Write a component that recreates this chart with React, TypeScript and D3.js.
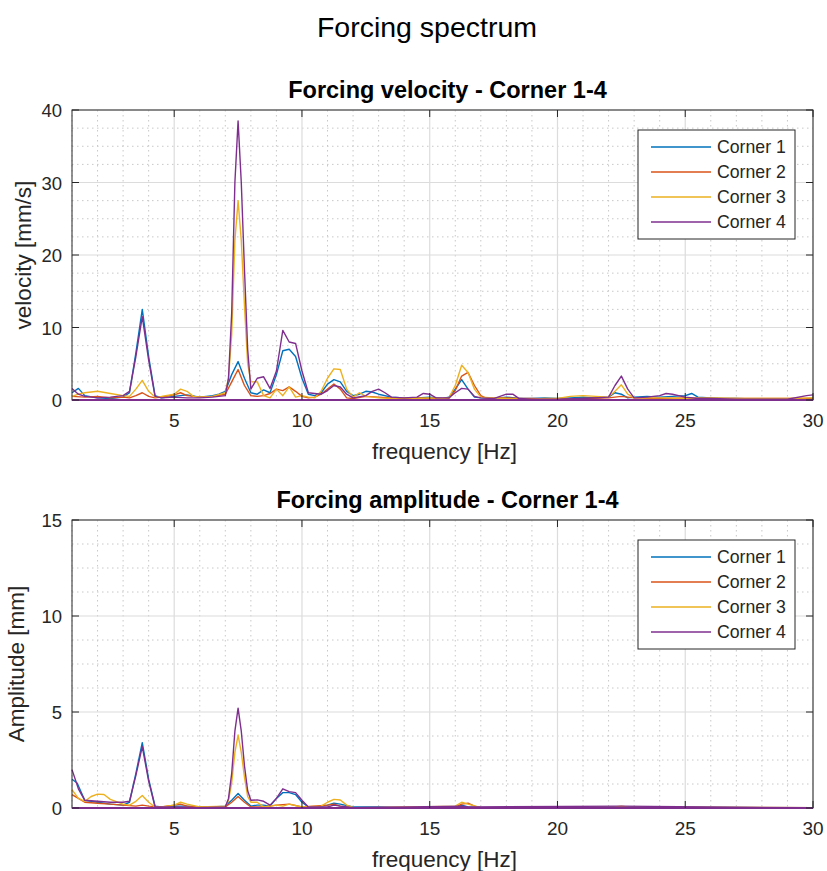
import React from "react";
import * as d3 from "d3";

type Pt = [number, number];

// ---------- Data (frequency Hz, value) ----------
const velCorner1: Pt[] = [
  [1.0, 1.0], [1.25, 1.6], [1.5, 0.6], [2.0, 0.3], [2.5, 0.2], [3.0, 0.4], [3.25, 1.0], [3.5, 6.5], [3.75, 12.5], [4.0, 6.0],
  [4.25, 0.6], [4.5, 0.3], [5.0, 0.5], [5.5, 0.7], [6.0, 0.4], [6.5, 0.6], [6.75, 0.8], [7.0, 1.2], [7.25, 3.5], [7.5, 5.3],
  [7.75, 3.0], [8.0, 1.0], [8.25, 0.8], [8.5, 1.4], [8.75, 1.0], [9.0, 3.5], [9.25, 6.8], [9.5, 7.0], [9.75, 6.0], [10.0, 3.0],
  [10.25, 0.8], [10.5, 0.6], [10.75, 1.0], [11.0, 2.2], [11.25, 2.8], [11.5, 2.5], [11.75, 1.2], [12.0, 0.6], [12.25, 0.8],
  [12.5, 1.2], [12.75, 1.1], [13.0, 0.8], [13.5, 0.4], [14.0, 0.3], [14.5, 0.3], [15.0, 0.4], [15.5, 0.2], [15.75, 0.4],
  [16.0, 1.5], [16.25, 2.8], [16.5, 1.5], [16.75, 0.4], [17.0, 0.3], [17.5, 0.2], [18.0, 0.4], [18.5, 0.2], [19.0, 0.2],
  [19.5, 0.3], [20.0, 0.2], [20.5, 0.3], [21.0, 0.4], [21.5, 0.3], [22.0, 0.4], [22.25, 1.0], [22.5, 0.8], [22.75, 0.3],
  [23.0, 0.4], [23.5, 0.5], [24.0, 0.4], [24.5, 0.5], [25.0, 0.6], [25.25, 0.9], [25.5, 0.4], [26.0, 0.3], [26.5, 0.2],
  [27.0, 0.2], [28.0, 0.1], [29.0, 0.1], [30.0, 0.2],
];
const velCorner2: Pt[] = [
  [1.0, 0.5], [1.5, 0.4], [2.0, 0.5], [2.5, 0.3], [3.0, 0.4], [3.25, 0.3], [3.5, 0.6], [3.75, 1.0], [4.0, 0.5], [4.25, 0.3],
  [4.5, 0.4], [5.0, 0.7], [5.25, 1.0], [5.5, 0.6], [6.0, 0.4], [6.5, 0.5], [7.0, 0.8], [7.25, 2.5], [7.5, 4.2], [7.75, 2.0],
  [8.0, 0.6], [8.25, 0.5], [8.5, 0.6], [8.75, 0.9], [9.0, 1.5], [9.25, 1.3], [9.5, 1.8], [9.75, 1.2], [10.0, 0.5], [10.25, 0.3],
  [10.5, 0.4], [10.75, 0.8], [11.0, 1.5], [11.25, 2.2], [11.5, 1.5], [11.75, 0.3], [12.0, 0.2], [12.5, 0.5], [13.0, 0.4],
  [13.5, 0.3], [14.0, 0.2], [14.5, 0.3], [15.0, 0.2], [15.5, 0.2], [15.75, 0.2], [16.0, 1.3], [16.25, 3.3], [16.5, 3.8],
  [16.75, 2.0], [17.0, 0.6], [17.25, 0.2], [17.5, 0.3], [18.0, 0.3], [18.5, 0.2], [19.0, 0.2], [20.0, 0.1], [21.0, 0.2],
  [22.0, 0.3], [22.5, 0.5], [23.0, 0.3], [24.0, 0.2], [25.0, 0.3], [26.0, 0.2], [27.0, 0.2], [28.0, 0.2], [29.0, 0.2], [30.0, 0.2],
];
const velCorner3: Pt[] = [
  [1.0, 0.5], [1.25, 0.8], [1.5, 1.0], [2.0, 1.2], [2.5, 0.9], [3.0, 0.6], [3.25, 0.5], [3.5, 1.5], [3.75, 2.7], [4.0, 1.2],
  [4.25, 0.4], [4.5, 0.5], [5.0, 0.8], [5.25, 1.5], [5.5, 1.2], [5.75, 0.5], [6.0, 0.4], [6.5, 0.5], [7.0, 1.0], [7.125, 3.0],
  [7.25, 9.0], [7.375, 22.0], [7.5, 27.5], [7.625, 22.0], [7.75, 13.0], [7.875, 5.0], [8.0, 2.5], [8.25, 2.5], [8.5, 0.6],
  [8.75, 0.3], [9.0, 1.5], [9.25, 0.6], [9.5, 1.8], [9.75, 0.4], [10.0, 0.6], [10.25, 0.4], [10.5, 0.3], [10.75, 1.2],
  [11.0, 3.0], [11.25, 4.3], [11.5, 4.2], [11.75, 1.5], [12.0, 0.4], [12.25, 1.0], [12.5, 0.5], [13.0, 0.3], [13.5, 0.2],
  [14.0, 0.3], [14.5, 0.2], [15.0, 0.3], [15.5, 0.2], [15.75, 0.3], [16.0, 2.0], [16.25, 4.8], [16.5, 3.8], [16.75, 1.5],
  [17.0, 0.4], [17.5, 0.3], [18.0, 0.2], [19.0, 0.1], [19.5, 0.2], [20.0, 0.2], [20.5, 0.5], [21.0, 0.6], [21.5, 0.5],
  [22.0, 0.4], [22.25, 1.2], [22.5, 2.1], [22.75, 0.8], [23.0, 0.3], [24.0, 0.3], [25.0, 0.2], [26.0, 0.3], [27.0, 0.2],
  [28.0, 0.2], [29.0, 0.2], [30.0, 0.3],
];
const velCorner4: Pt[] = [
  [1.0, 1.6], [1.25, 0.8], [1.5, 0.5], [2.0, 0.3], [2.5, 0.4], [3.0, 0.6], [3.25, 1.2], [3.5, 6.0], [3.75, 11.5], [4.0, 5.5],
  [4.25, 0.5], [4.5, 0.3], [5.0, 0.4], [5.5, 0.3], [6.0, 0.3], [6.5, 0.4], [7.0, 0.6], [7.125, 3.0], [7.25, 12.0],
  [7.375, 30.0], [7.5, 38.5], [7.625, 30.0], [7.75, 18.0], [7.875, 7.0], [8.0, 1.5], [8.25, 3.0], [8.5, 3.2], [8.75, 1.6],
  [9.0, 4.0], [9.25, 9.6], [9.5, 8.0], [9.75, 7.8], [10.0, 4.0], [10.25, 1.0], [10.5, 0.9], [10.75, 0.8], [11.0, 1.3],
  [11.25, 2.0], [11.5, 1.8], [11.75, 0.8], [12.0, 0.3], [12.5, 0.6], [12.75, 1.2], [13.0, 1.5], [13.25, 1.0], [13.5, 0.4],
  [14.0, 0.3], [14.5, 0.4], [14.75, 0.9], [15.0, 0.8], [15.25, 0.3], [15.75, 0.3], [16.0, 1.0], [16.25, 1.6], [16.5, 1.5],
  [16.75, 0.5], [17.0, 0.3], [17.5, 0.2], [18.0, 0.8], [18.25, 0.8], [18.5, 0.2], [19.0, 0.1], [20.0, 0.1], [21.0, 0.2],
  [22.0, 0.4], [22.25, 2.0], [22.5, 3.3], [22.75, 1.5], [23.0, 0.3], [23.5, 0.4], [24.0, 0.6], [24.25, 0.9], [24.5, 0.8],
  [25.0, 0.4], [25.5, 0.2], [26.0, 0.2], [27.0, 0.1], [28.0, 0.1], [29.0, 0.1], [29.75, 0.6], [30.0, 0.7],
];

const ampCorner1: Pt[] = [
  [1.0, 1.5], [1.2, 1.3], [1.5, 0.4], [2.0, 0.3], [2.5, 0.2], [3.0, 0.15], [3.25, 0.3], [3.5, 1.8], [3.75, 3.4], [4.0, 1.5],
  [4.25, 0.1], [4.5, 0.05], [5.0, 0.1], [5.5, 0.1], [6.0, 0.05], [6.5, 0.05], [7.0, 0.1], [7.25, 0.4], [7.5, 0.75],
  [7.75, 0.4], [8.0, 0.1], [8.25, 0.15], [8.5, 0.15], [8.75, 0.1], [9.0, 0.5], [9.25, 0.8], [9.5, 0.8], [9.75, 0.7],
  [10.0, 0.3], [10.25, 0.05], [10.5, 0.05], [11.0, 0.15], [11.25, 0.25], [11.5, 0.2], [12.0, 0.05], [13.0, 0.05],
  [14.0, 0.02], [16.0, 0.03], [16.25, 0.15], [16.5, 0.05], [17.0, 0.02], [22.5, 0.05], [30.0, 0.01],
];
const ampCorner2: Pt[] = [
  [1.0, 0.7], [1.25, 0.5], [1.5, 0.3], [2.0, 0.25], [2.5, 0.2], [3.0, 0.15], [3.5, 0.1], [3.75, 0.15], [4.0, 0.1],
  [4.5, 0.05], [5.0, 0.15], [5.25, 0.2], [5.5, 0.1], [6.0, 0.05], [7.0, 0.05], [7.25, 0.3], [7.5, 0.6], [7.75, 0.3],
  [8.0, 0.05], [8.5, 0.05], [9.0, 0.15], [9.5, 0.2], [10.0, 0.05], [11.0, 0.15], [11.25, 0.2], [11.5, 0.1], [12.0, 0.02],
  [16.0, 0.05], [16.25, 0.2], [16.5, 0.25], [16.75, 0.1], [17.0, 0.02], [30.0, 0.01],
];
const ampCorner3: Pt[] = [
  [1.0, 0.95], [1.25, 0.5], [1.5, 0.35], [1.75, 0.6], [2.0, 0.72], [2.25, 0.7], [2.5, 0.45], [3.0, 0.2], [3.25, 0.15],
  [3.5, 0.35], [3.75, 0.65], [4.0, 0.3], [4.25, 0.05], [4.5, 0.05], [5.0, 0.15], [5.25, 0.3], [5.5, 0.2], [6.0, 0.05],
  [7.0, 0.1], [7.125, 0.4], [7.25, 1.3], [7.375, 2.9], [7.5, 3.8], [7.625, 2.9], [7.75, 1.6], [7.875, 0.6], [8.0, 0.3],
  [8.25, 0.3], [8.5, 0.05], [9.0, 0.15], [9.25, 0.1], [9.5, 0.2], [10.0, 0.05], [10.75, 0.1], [11.0, 0.3], [11.25, 0.45],
  [11.5, 0.42], [11.75, 0.15], [12.0, 0.03], [13.0, 0.02], [16.0, 0.1], [16.25, 0.3], [16.5, 0.2], [17.0, 0.02],
  [22.25, 0.05], [22.5, 0.1], [22.75, 0.05], [30.0, 0.02],
];
const ampCorner4: Pt[] = [
  [1.0, 2.0], [1.25, 1.0], [1.5, 0.4], [2.0, 0.35], [2.5, 0.3], [3.0, 0.3], [3.25, 0.35], [3.5, 1.7], [3.75, 3.2], [4.0, 1.4],
  [4.25, 0.05], [4.5, 0.05], [5.0, 0.05], [6.0, 0.02], [7.0, 0.05], [7.125, 0.5], [7.25, 1.8], [7.375, 4.0], [7.5, 5.2],
  [7.625, 4.0], [7.75, 2.2], [7.875, 0.9], [8.0, 0.4], [8.25, 0.42], [8.5, 0.35], [8.75, 0.15], [9.0, 0.5], [9.25, 1.0],
  [9.5, 0.85], [9.75, 0.8], [10.0, 0.4], [10.25, 0.05], [11.0, 0.05], [11.25, 0.15], [11.5, 0.1], [12.0, 0.02],
  [16.25, 0.1], [16.5, 0.05], [22.5, 0.1], [30.0, 0.01],
];

const seriesNames = ["Corner 1", "Corner 2", "Corner 3", "Corner 4"];
const seriesColors = ["#0072BD", "#D95319", "#EDB120", "#7E2F8E"];
const xTicks = [5, 10, 15, 20, 25, 30];
const velTicks = [0, 10, 20, 30, 40];
const ampTicks = [0, 5, 10, 15];

const FONT = "'Liberation Sans', Arial, Helvetica, sans-serif";
const TEXT = "#262626";

interface PanelProps {
  top: number;
  bottom: number;
  data: Pt[][];
  yMax: number;
  yTicks: number[];
  yMinorStep: number;
  title: string;
  ylabel: string;
  ylabelX: number;
}

const LEFT = 72;
const RIGHT = 813;

function Panel({ top, bottom, data, yMax, yTicks, yMinorStep, title, ylabel, ylabelX }: PanelProps) {
  const x = d3.scaleLinear().domain([1, 30]).range([LEFT, RIGHT]);
  const y = d3.scaleLinear().domain([0, yMax]).range([bottom, top]);
  const line = d3.line<Pt>().x((d) => x(d[0])).y((d) => y(d[1]));
  const xMinor = d3.range(1, 31, 1).filter((v) => v % 5 !== 0);
  const yMinor = d3.range(0, yMax + 1e-9, yMinorStep).filter((v) => !yTicks.some((t) => Math.abs(t - v) < 1e-9));
  const tickLen = 7;
  const midX = (LEFT + RIGHT) / 2;
  const legTop = top + 20;
  const legLeft = 638;
  const legW = 157;
  const rowH = 25;

  return (
    <g>
      {xMinor.map((v) => (
        <line key={"xm" + v} x1={x(v)} x2={x(v)} y1={top} y2={bottom} stroke="#c8c8c8" strokeWidth={1} strokeDasharray="1.5,3.5" />
      ))}
      {yMinor.map((v) => (
        <line key={"ym" + v} x1={LEFT} x2={RIGHT} y1={y(v)} y2={y(v)} stroke="#c8c8c8" strokeWidth={1} strokeDasharray="1.5,3.5" />
      ))}
      {xTicks.map((v) => (
        <line key={"xg" + v} x1={x(v)} x2={x(v)} y1={top} y2={bottom} stroke="#dcdcdc" strokeWidth={1.2} />
      ))}
      {yTicks.map((v) => (
        <line key={"yg" + v} x1={LEFT} x2={RIGHT} y1={y(v)} y2={y(v)} stroke="#dcdcdc" strokeWidth={1.2} />
      ))}
      {data.map((s, i) => (
        <path key={"s" + i} d={line(s) || ""} fill="none" stroke={seriesColors[i]} strokeWidth={1.4} strokeLinejoin="round" />
      ))}
      <rect x={LEFT} y={top} width={RIGHT - LEFT} height={bottom - top} fill="none" stroke={TEXT} strokeWidth={1} />
      <line x1={LEFT} x2={RIGHT} y1={bottom} y2={bottom} stroke={seriesColors[3]} strokeWidth={2} />
      {xTicks.map((v) => (
        <g key={"xt" + v}>
          <line x1={x(v)} x2={x(v)} y1={bottom} y2={bottom - tickLen} stroke={TEXT} />
          <line x1={x(v)} x2={x(v)} y1={top} y2={top + tickLen} stroke={TEXT} />
          <text x={x(v)} y={bottom + 27} textAnchor="middle" fontSize={19} fill={TEXT} fontFamily={FONT}>{v}</text>
        </g>
      ))}
      {yTicks.map((v) => (
        <g key={"yt" + v}>
          <line x1={LEFT} x2={LEFT + tickLen} y1={y(v)} y2={y(v)} stroke={TEXT} />
          <line x1={RIGHT} x2={RIGHT - tickLen} y1={y(v)} y2={y(v)} stroke={TEXT} />
          <text x={LEFT - 10} y={y(v) + 7} textAnchor="end" fontSize={18.5} fill={TEXT} fontFamily={FONT}>{v}</text>
        </g>
      ))}
      <text x={midX + 5} y={top - 12} textAnchor="middle" fontSize={23.5} fontWeight="bold" fill="#000" fontFamily={FONT}>{title}</text>
      <text x={midX + 2} y={bottom + 59} textAnchor="middle" fontSize={22.5} fill={TEXT} fontFamily={FONT}>frequency [Hz]</text>
      <text transform={`translate(${ylabelX},${(top + bottom) / 2}) rotate(-90)`} textAnchor="middle" fontSize={22.5} fill={TEXT} fontFamily={FONT}>{ylabel}</text>
      <rect x={legLeft} y={legTop} width={legW} height={rowH * 4 + 9} fill="#fff" stroke={TEXT} strokeWidth={1} />
      {seriesNames.map((n, i) => (
        <g key={"lg" + i}>
          <line x1={legLeft + 13} x2={legLeft + 73} y1={legTop + 17 + i * rowH} y2={legTop + 17 + i * rowH} stroke={seriesColors[i]} strokeWidth={1.4} />
          <text x={legLeft + 79} y={legTop + 23 + i * rowH} fontSize={17.7} fill={TEXT} fontFamily={FONT}>{n}</text>
        </g>
      ))}
    </g>
  );
}

export default function App() {
  return (
    <svg width={827} height={871} style={{ position: "absolute", left: 0, top: 0, background: "#fff" }}>
      <rect x={0} y={0} width={827} height={871} fill="#fff" />
      <text x={427} y={37} textAnchor="middle" fontSize={28.5} fill="#000" fontFamily={FONT}>Forcing spectrum</text>
      <Panel top={110} bottom={400} data={[velCorner1, velCorner2, velCorner3, velCorner4]} yMax={40} yTicks={velTicks}
        yMinorStep={2.5} title="Forcing velocity - Corner 1-4" ylabel="velocity [mm/s]" ylabelX={31} />
      <Panel top={520} bottom={808} data={[ampCorner1, ampCorner2, ampCorner3, ampCorner4]} yMax={15} yTicks={ampTicks}
        yMinorStep={1.25} title="Forcing amplitude - Corner 1-4" ylabel="Amplitude [mm]" ylabelX={24} />
    </svg>
  );
}
